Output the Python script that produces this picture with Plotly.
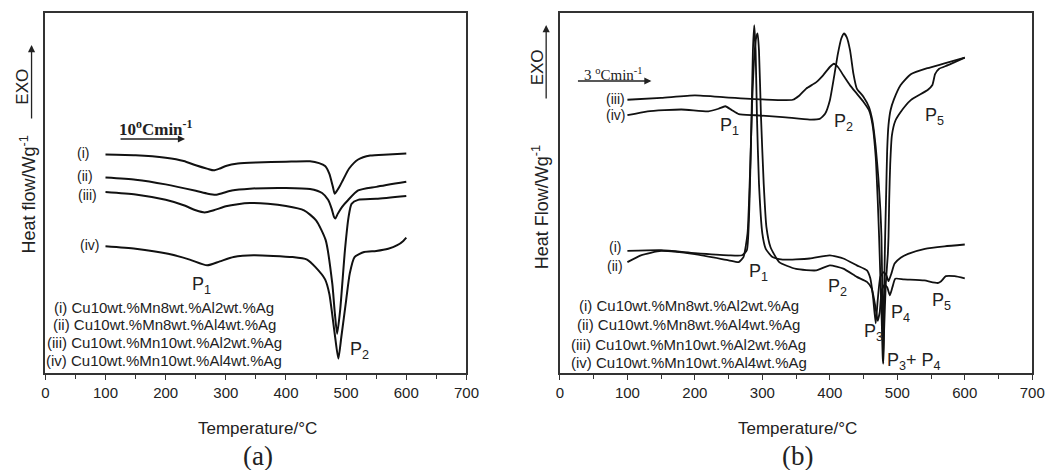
import plotly.graph_objects as go

# ---------------- data (y in arbitrary heat-flow units 0-100) -------------
a_T_i = [100,150,200,230,250,270,280,290,300,320,350,400,440,455,465,472,478,481,485,490,495,505,520,540,570,600]
a_i = [60.7,60.5,59.8,58.9,57.7,56.7,56.3,56.8,57.5,58.2,58.5,58.7,58.8,58.3,57.5,55.4,51.7,49.8,50.7,52.1,53.7,56.8,59.3,60.4,60.7,61.0]

a_T_ii = [100,150,200,250,270,283,295,310,340,400,440,460,470,476,480,482,486,493,503,520,550,600]
a_ii = [54.3,53.7,52.4,50.6,49.8,49.5,50.0,50.7,51.2,51.4,51.1,50.0,48.1,45.6,43.3,42.9,44.2,46.1,48.0,50.7,51.7,53.1]

a_T_iii = [100,150,200,230,250,265,280,300,320,340,370,400,430,450,466,477,481,485,490,498,504,509,520,550,600]
a_iii = [50.3,49.6,48.1,46.6,45.2,44.6,45.2,46.3,46.9,47.2,47.0,46.4,45.2,42.4,36.9,24.8,17.0,10.9,17.4,34.1,43.3,47.0,48.1,48.4,49.2]

a_T_iv = [100,150,204,240,269,290,313,346,411,435,449,465,472,481,487,492,500,506,514,530,550,570,585,595,600]
a_iv = [35.2,34.5,33.1,31.5,29.9,31.0,32.2,32.7,32.2,31.5,29.4,26.0,22.0,10.9,4.0,10.0,20.2,27.6,32.2,33.6,33.9,34.5,35.5,36.7,37.6]

b_T_i = [100,150,200,250,270,277,281,284,286,288,290,292,295,300,305,315,330,370,400,420,440,455,460,464,468,471,475,480,484,487,491,496,505,516,541,570,600]
b_i = [33.9,34.1,33.3,32.7,32.7,34.1,48.0,71.1,89.6,96.6,89.6,71.1,52.6,38.7,34.5,32.2,31.5,31.8,32.7,31.8,29.9,28.5,26.3,21.2,13.8,20.3,26.8,28.0,27.0,25.5,27.5,30.4,32.0,33.1,34.5,35.2,35.7]

b_T_ii = [100,120,150,200,250,265,272,278,282,285,288,291,293,295,298,302,306,312,325,350,380,400,420,440,455,462,467,471,474,477,481,485,489,493,497,510,540,560,565,572,585,600]
b_ii = [30.8,32.7,33.9,33.0,31.3,30.8,32.2,38.7,57.2,75.7,87.8,93.3,94.3,89.6,71.1,52.6,40.6,35.0,30.8,28.9,28.5,29.9,29.0,26.7,25.3,23.5,19.0,14.5,17.0,23.0,24.5,23.8,21.6,24.0,26.2,26.0,25.7,25.0,25.5,26.9,26.9,26.3]

b_T_iii = [100,150,200,250,300,345,355,365,380,390,400,406,412,420,430,440,450,458,463,468,471,473,475,477,478.5,479.3,480.5,483,486,487,488,489.5,492,497,505,520,545,552,556,562,575,600]
b_iii = [75.9,76.4,77.1,76.5,76.0,75.9,77.1,79.0,80.8,82.7,85.0,85.9,85.0,82.7,79.9,77.6,75.3,73.0,69.3,60.0,48.0,38.0,26.0,14.0,4.0,2.6,12.0,25.0,33.0,38.0,48.0,58.0,66.0,70.0,72.5,75.8,78.6,80.0,83.0,84.5,85.5,87.6]

b_T_iv = [100,130,180,220,235,245,255,265,290,330,370,385,393,400,407,412,417,421,425,430,435,440,450,458,463,468,472,475,476.5,478,479,480,481,482,483.5,485,487,490,495,505,520,545,570,600]
b_iv = [71.6,72.7,73.2,72.7,73.4,74.1,73.0,71.9,71.6,71.1,70.4,70.6,72.0,75.7,83.1,88.7,92.9,94.3,93.3,89.6,83.1,79.0,76.7,73.9,70.2,62.8,54.0,45.0,38.0,20.0,4.0,12.0,28.0,38.0,50.0,62.0,69.0,73.0,76.0,80.0,83.0,84.7,86.0,87.6]

x_ticks = [0, 100, 200, 300, 400, 500, 600, 700]
legend_lines = ["(i) Cu10wt.%Mn8wt.%Al2wt.%Ag",
                "(ii) Cu10wt.%Mn8wt.%Al4wt.%Ag",
                "(iii) Cu10wt.%Mn10wt.%Al2wt.%Ag",
                "(iv) Cu10wt.%Mn10wt.%Al4wt.%Ag"]
curve_tags = ["(i)", "(ii)", "(iii)", "(iv)"]

# ---------------- figure ----------------
W, H = 1060, 470
SANS = "Liberation Sans, Arial, sans-serif"
SERIF = "Liberation Serif, Times New Roman, serif"
TXT = "#222222"

def P(x, y):
    """page pixel -> paper coordinates"""
    return x / W, 1 - y / H

fig = go.Figure()
for T, v in [(a_T_i, a_i), (a_T_ii, a_ii), (a_T_iii, a_iii), (a_T_iv, a_iv)]:
    fig.add_trace(go.Scatter(x=T, y=v, mode="lines",
                             line=dict(color="#111111", width=2, shape="spline", smoothing=0.6),
                             xaxis="x", yaxis="y", showlegend=False, hoverinfo="skip"))
for T, v in [(b_T_i, b_i), (b_T_ii, b_ii), (b_T_iii, b_iii), (b_T_iv, b_iv)]:
    fig.add_trace(go.Scatter(x=T, y=v, mode="lines",
                             line=dict(color="#111111", width=1.8, shape="spline", smoothing=0.5),
                             xaxis="x2", yaxis="y2", showlegend=False, hoverinfo="skip"))

ydom = [P(0, 373)[1], P(0, 13)[1]]
xcommon = dict(range=[0, 700], tickvals=x_ticks, ticks="outside", ticklen=5, tickwidth=1.2,
               tickcolor="#333", showline=True, linecolor="#333", linewidth=1.5, mirror=True,
               showgrid=False, zeroline=False,
               minor=dict(tickvals=[50, 150, 250, 350, 450, 550, 650], ticks="outside", ticklen=4,
                          tickcolor="#333", tickwidth=1.2),
               tickfont=dict(family=SANS, size=15, color=TXT))
ycommon = dict(range=[0, 100], showticklabels=False, ticks="", showline=True, linecolor="#333",
               linewidth=1.5, mirror=True, showgrid=False, zeroline=False)

fig.update_layout(
    width=W, height=H, margin=dict(l=0, r=0, t=0, b=0),
    paper_bgcolor="white", plot_bgcolor="white",
    xaxis=dict(domain=[P(42, 0)[0], P(470, 0)[0]], anchor="y", **xcommon),
    yaxis=dict(domain=ydom, anchor="x", **ycommon),
    xaxis2=dict(domain=[P(565, 0)[0], P(1045, 0)[0]], anchor="y2", **xcommon),
    yaxis2=dict(domain=ydom, anchor="x2", **ycommon),
)

ann = []
def text(x, y, s, size=13, font=SANS, angle=0):
    px, py = P(x, y)
    ann.append(dict(x=px, y=py, xref="paper", yref="paper", text=s, showarrow=False,
                    font=dict(family=font, size=size, color=TXT), textangle=angle,
                    xanchor="center", yanchor="middle"))

def arrow(x0, y0, x1, y1):
    px, py = P(x1, y1)
    ann.append(dict(x=px, y=py, xref="paper", yref="paper", text="", showarrow=True,
                    ax=x0 - x1, ay=y0 - y1, axref="pixel", ayref="pixel",
                    arrowhead=2, arrowsize=1.1, arrowwidth=1.3, arrowcolor="#222"))

# ----- panel (a)
text(18, 87, "EXO", 17, angle=-90)
arrow(28, 120, 28, 45)
text(24, 195, "Heat flow/Wg<sup>-1</sup>", 18, angle=-90)
text(154, 128, "<b>10<sup>o</sup>Cmin<sup>-1</sup></b>", 17, font=SERIF)
arrow(118, 139, 184, 139)
for tag, (x, y) in zip(curve_tags, [(80, 153), (82, 176), (85, 195), (87, 245)]):
    text(x, y, tag, 14)
text(201, 285, "P<sub>1</sub>", 18)
text(361, 350, "P<sub>2</sub>", 18)
for s, y in zip(legend_lines, [307, 324, 342, 360]):
    text(163, y, s, 15)
text(258, 428, "Temperature/°C", 17)
text(258, 456, "(a)", 27, font=SERIF)

# ----- panel (b)
text(542, 67, "EXO", 17, angle=-90)
arrow(551, 100, 551, 25)
text(545, 207, "Heat Flow/Wg<sup>-1</sup>", 18, angle=-90)
text(619, 74, "3 <sup>o</sup>Cmin<sup>-1</sup>", 15, font=SERIF)
arrow(583, 81, 658, 81)
for tag, (x, y) in zip(["(iii)", "(iv)", "(i)", "(ii)"], [(621, 99), (621, 115), (621, 247), (621, 266)]):
    text(x, y, tag, 14)
text(737, 126, "P<sub>1</sub>", 18)
text(853, 122, "P<sub>2</sub>", 18)
text(946, 117, "P<sub>5</sub>", 18)
text(767, 272, "P<sub>1</sub>", 18)
text(847, 287, "P<sub>2</sub>", 18)
text(911, 313, "P<sub>4</sub>", 18)
text(953, 301, "P<sub>5</sub>", 18)
text(884, 332, "P<sub>3</sub>", 18)
text(925, 361, "P<sub>3</sub>+ P<sub>4</sub>", 18)
for s, y in zip(legend_lines, [305, 324, 344, 362]):
    text(696, y, s, 15)
text(806, 428, "Temperature/°C", 17)
text(806, 456, "(b)", 27, font=SERIF)

fig.update_layout(annotations=ann)
fig.write_html("out.html", config={"displayModeBar": False},
               post_script="document.body.style.margin='0';document.body.style.overflow='hidden';")
